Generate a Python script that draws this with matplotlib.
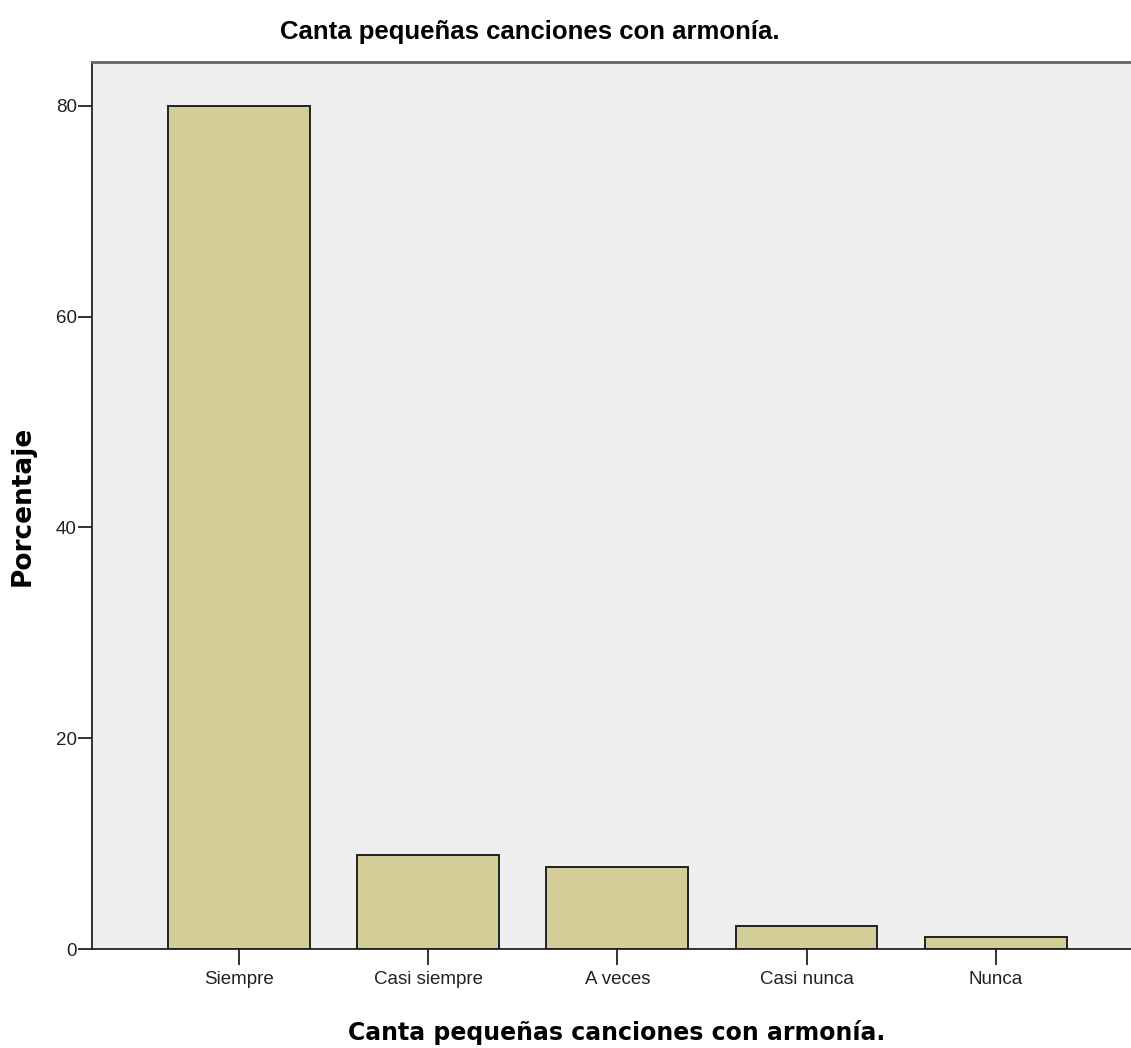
import matplotlib
matplotlib.use("Agg")
import matplotlib.pyplot as plt

categories = ["Siempre", "Casi siempre", "A veces", "Casi nunca", "Nunca"]
percentages = [80.0, 8.89, 7.78, 2.22, 1.11]
yticks = [0, 20, 40, 60, 80]
title = "Canta pequeñas canciones con armonía."
xlabel = "Canta pequeñas canciones con armonía."
ylabel = "Porcentaje"

W, H = 1131, 1048
fig = plt.figure(figsize=(W / 100, H / 100), dpi=100)
ax = fig.add_axes([92 / W, 1 - 949 / H, 1 - 92 / W, (949 - 61.7) / H])
ax.set_facecolor("#EFEFEF")

x = list(range(len(categories)))
ax.bar(x, percentages, width=0.75, color="#D3CE97", edgecolor="#222222", linewidth=1.4)

ax.set_xlim(-0.777, 4.715)
ax.set_ylim(0, 84.2)
ax.set_yticks(yticks)
ax.set_xticks(x)
ax.set_xticklabels(categories)

tick_font = ["Liberation Sans Narrow", "Liberation Sans", "DejaVu Sans"]
for lab in ax.get_xticklabels() + ax.get_yticklabels():
    lab.set_family(tick_font)
    lab.set_fontsize(13.5)
    lab.set_color("#222222")

ax.tick_params(axis="y", length=10, width=1.3, color="#222222", pad=1)
ax.tick_params(axis="x", length=11.5, width=1.3, color="#222222", pad=4)

for s in ["left", "bottom"]:
    ax.spines[s].set_color("#222222")
    ax.spines[s].set_linewidth(1.3)
ax.spines["top"].set_color("#666666")
ax.spines["top"].set_linewidth(2.0)
ax.spines["right"].set_visible(False)

fig.text(530 / W, 1 - 39 / H, title, ha="center", va="baseline",
         fontsize=18.5, fontweight="bold", family=["Liberation Sans", "DejaVu Sans"])
fig.text(617 / W, 1 - 1040 / H, xlabel, ha="center", va="baseline",
         fontsize=17, fontweight="bold", family=["DejaVu Sans"])
fig.text(23 / W, 1 - 506 / H, ylabel, ha="center", va="center", rotation=90,
         fontsize=19, fontweight="bold", family=["DejaVu Sans"])

fig.savefig("out.png", dpi=100, facecolor="white")
